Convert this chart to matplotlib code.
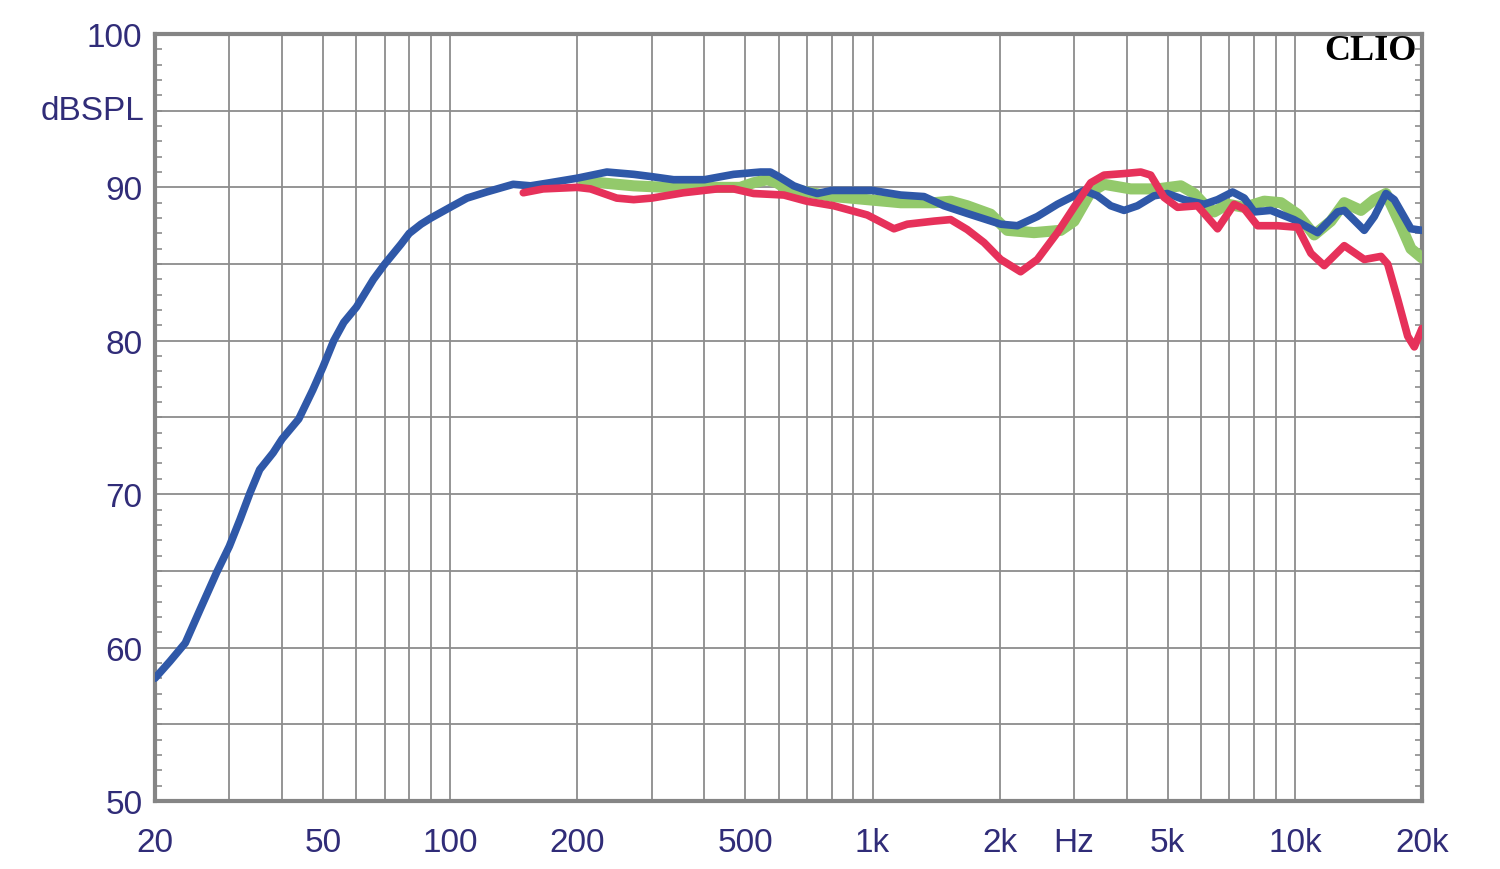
import matplotlib
matplotlib.use("Agg")
import matplotlib.pyplot as plt
from matplotlib.ticker import FixedLocator, NullFormatter
import numpy as np

# ---- data ----
blue_f = [20, 21.7, 23.6, 25.6, 28, 30, 31.8, 33.6, 35.4, 38.1, 40, 43.8, 47.3, 50, 53, 56, 60,
          65.8, 70, 76.5, 80, 85.3, 90, 100, 109.6, 122, 141, 155, 172, 200, 235, 272, 300, 338,
          400, 469, 543, 573, 600, 651, 698, 740, 800, 1000, 1166, 1324, 1477, 1676, 2011, 2203,
          2456, 2740, 3000, 3169, 3408, 3665, 3941, 4240, 4642, 4990, 5468, 6100, 6561, 7120,
          7590, 8010, 8770, 9950, 10720, 11320, 12620, 13090, 14600, 15420, 16430, 17190, 18830,
          20000]
blue_db = [58.0, 59.1, 60.3, 62.5, 64.9, 66.6, 68.35, 70.1, 71.6, 72.7, 73.6, 74.9, 76.8, 78.3, 80.0, 81.2, 82.2,
           84.0, 85.0, 86.3, 87.0, 87.6, 88.0, 88.7, 89.3, 89.7, 90.2, 90.1, 90.3, 90.6, 91.0, 90.85, 90.7, 90.5,
           90.5, 90.85, 91.0, 91.0, 90.7, 90.1, 89.8, 89.6, 89.8, 89.8, 89.5, 89.4, 88.8, 88.3, 87.6, 87.5,
           88.1, 88.9, 89.45, 89.8, 89.45, 88.8, 88.5, 88.8, 89.45, 89.6, 89.2, 88.9, 89.2, 89.7,
           89.3, 88.4, 88.5, 87.9, 87.4, 87.05, 88.4, 88.5, 87.2, 88.1, 89.6, 89.2, 87.3,
           87.2]

green_f = [207, 227, 272, 326, 391, 486, 523, 563, 594, 617, 700, 810, 972, 1166, 1398, 1531, 1676,
           1904, 2085, 2412, 2790, 3000, 3286, 3533, 4087, 4728, 5370, 5774, 6100, 6440, 6928,
           7590, 8460, 9270, 10150, 11110, 12170, 13090, 14340, 15420, 16430, 17830, 18830, 20000]
green_db = [90.3, 90.3, 90.1, 90.0, 90.0, 90.0, 90.3, 90.5, 90.3, 90.0, 89.7, 89.4, 89.2, 89.0, 89.0, 89.1, 88.8,
            88.25, 87.2, 87.05, 87.2, 87.8, 89.7, 90.2, 89.9, 89.9, 90.1, 89.6, 88.9, 88.4, 88.9,
            88.7, 89.1, 89.0, 88.25, 86.9, 87.8, 89.0, 88.5, 89.2, 89.6, 87.5, 86.0, 85.4]

red_f = [149, 166, 200, 215, 248, 272, 300, 357, 429, 469, 523, 617, 698, 810, 972, 1124, 1209,
         1398, 1531, 1676, 1837, 2011, 2242, 2456, 2740, 3000, 3286, 3533, 3941, 4317, 4557,
         4900, 5275, 5881, 6561, 7180, 7590, 8159, 9100, 10150, 10915, 11735, 13090, 14600,
         15990, 16590, 17520, 18500, 19180, 20000]
red_db = [89.65, 89.9, 90.0, 89.9, 89.3, 89.2, 89.3, 89.65, 89.9, 89.9, 89.6, 89.5, 89.1, 88.8, 88.2, 87.3, 87.6,
          87.8, 87.9, 87.25, 86.4, 85.3, 84.5, 85.3, 87.05, 88.7, 90.3, 90.8, 90.9, 91.0, 90.8,
          89.35, 88.7, 88.8, 87.3, 88.9, 88.6, 87.5, 87.5, 87.4, 85.7, 84.9, 86.2, 85.3,
          85.5, 85.0, 82.7, 80.3, 79.6, 80.8]

x_ticks = [20, 50, 100, 200, 500, 1000, 2000, 5000, 10000, 20000]
x_labels = ["20", "50", "100", "200", "500", "1k", "2k", "5k", "10k", "20k"]
y_ticks = [50, 60, 70, 80, 90, 100]
y_labels = ["50", "60", "70", "80", "90", "100"]

# ---- figure ----
fig = plt.figure(figsize=(15, 8.7), dpi=100)
ax = fig.add_axes([0.1033, 0.0782, 0.8447, 0.8816])
ax.set_xscale("log")
ax.set_xlim(20, 20000)
ax.set_ylim(50, 100)

grid_c = "#8c8c8c"
vgrid = [m * 10 ** k for k in range(1, 5) for m in range(1, 10) if 20 < m * 10 ** k < 20000]
for v in vgrid:
    ax.axvline(v, color=grid_c, lw=1.3, zorder=1)
for h in range(55, 100, 5):
    ax.axhline(h, color=grid_c, lw=1.3, zorder=1)

for s in ax.spines.values():
    s.set_color("#858585")
    s.set_linewidth(3)

txt_c = "#302c78"
fs = 24
xpad = 19
ax.xaxis.set_major_locator(FixedLocator(x_ticks))
ax.set_xticklabels(x_labels)
ax.xaxis.set_minor_locator(FixedLocator([]))
ax.xaxis.set_minor_formatter(NullFormatter())
ax.tick_params(axis="x", which="both", length=0, pad=xpad, labelsize=fs, labelcolor=txt_c)

ax.yaxis.set_major_locator(FixedLocator(y_ticks))
ax.set_yticklabels(y_labels)
ax.yaxis.set_minor_locator(FixedLocator(np.arange(50, 101, 1)))
ax.tick_params(axis="y", which="major", length=0, pad=9, labelsize=fs, labelcolor=txt_c)
ax.tick_params(axis="y", which="minor", direction="in", length=5, width=1.2,
               color=grid_c, left=True, right=True)
for lab in ax.get_xticklabels() + ax.get_yticklabels():
    lab.set_fontfamily("Liberation Sans")

# extra labels
ax.text(-0.008, 95, "dBSPL", transform=ax.get_yaxis_transform(), ha="right", va="center",
        fontsize=fs, color=txt_c, family="Liberation Sans")
ax_h_px = 0.8816 * 870
ax.text(3000, -(xpad * 100 / 72) / ax_h_px, "Hz", transform=ax.get_xaxis_transform(),
        ha="center", va="top", fontsize=fs, color=txt_c, family="Liberation Sans")
ax.text(0.996, 1.0, "CLIO", transform=ax.transAxes, ha="right", va="top",
        fontsize=26, fontweight="bold", color="black", family="Liberation Serif")

# curves
ax.plot(green_f, green_db, color="#93c96b", lw=8, solid_capstyle="round", zorder=3)
ax.plot(blue_f, blue_db, color="#2f58a8", lw=5.5, solid_capstyle="round", zorder=4)
ax.plot(red_f, red_db, color="#e6315a", lw=5.5, solid_capstyle="round", zorder=5)

fig.savefig("out.png", dpi=100)
